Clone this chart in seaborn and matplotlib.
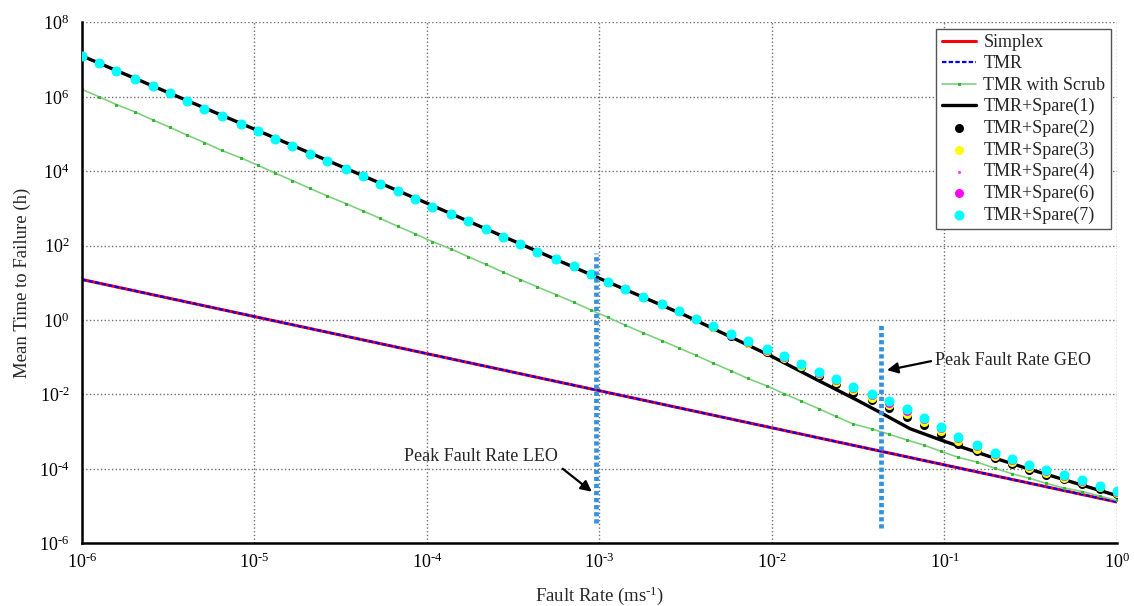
# MTTF vs fault rate for simplex / TMR / TMR+spares
import numpy as np
import matplotlib
matplotlib.use('Agg')
import matplotlib.pyplot as plt
import seaborn as sns
from matplotlib.ticker import NullLocator, NullFormatter, FuncFormatter

# all values as log10 exponents
simplex_x = [-6.0, -3.0, 0.0]
simplex_y = [1.09, -1.90, -4.89]
tmr_x = [-6.0, -3.0, 0.0]
tmr_y = [1.09, -1.90, -4.89]

# x grid of the marker series (log10 of fault rate)
rate_exp = [-6.00, -5.90, -5.80, -5.69, -5.59, -5.49, -5.39, -5.29, -5.19, -5.08,
            -4.98, -4.88, -4.78, -4.68, -4.58, -4.47, -4.37, -4.27, -4.17, -4.07,
            -3.97, -3.86, -3.76, -3.66, -3.56, -3.46, -3.36, -3.25, -3.15, -3.05,
            -2.95, -2.85, -2.75, -2.64, -2.54, -2.44, -2.34, -2.24, -2.14, -2.03,
            -1.93, -1.83, -1.73, -1.63, -1.53, -1.42, -1.32, -1.22, -1.12, -1.02,
            -0.92, -0.81, -0.71, -0.61, -0.51, -0.41, -0.31, -0.20, -0.10, 0.00]

scrub_y = [6.20, 6.00, 5.79, 5.59, 5.38, 5.18, 4.97, 4.77, 4.56, 4.36,
           4.16, 3.95, 3.75, 3.54, 3.34, 3.13, 2.93, 2.73, 2.52, 2.32,
           2.11, 1.91, 1.70, 1.50, 1.29, 1.09, 0.89, 0.68, 0.48, 0.27,
           0.07, -0.14, -0.34, -0.55, -0.75, -0.95, -1.16, -1.36, -1.57, -1.77,
           -1.98, -2.18, -2.38, -2.59, -2.79, -2.93, -3.07, -3.22, -3.36, -3.53,
           -3.69, -3.82, -3.98, -4.13, -4.25, -4.39, -4.51, -4.61, -4.73, -4.85]

spare1_x = [-6.0, -5.0, -4.0, -3.0, -2.5, -2.3, -2.0, -1.75, -1.5, -1.37, -1.2, -1.0, -0.75, -0.5, -0.25, 0.0]
spare1_y = [7.10, 5.13, 3.14, 1.12, 0.12, -0.32, -0.98, -1.58, -2.17, -2.49, -2.92, -3.26, -3.65, -4.02, -4.37, -4.72]

# the spare(2..7) markers coincide up to ~2e-3, then split
spare_head = [7.10, 6.90, 6.70, 6.49, 6.29, 6.09, 5.89, 5.68, 5.48, 5.28,
              5.08, 4.87, 4.67, 4.47, 4.27, 4.06, 3.86, 3.66, 3.46, 3.25,
              3.05, 2.85, 2.65, 2.44, 2.24, 2.04, 1.84, 1.64, 1.44, 1.23,
              1.03, 0.83, 0.63, 0.43, 0.23, 0.02]
spare2_tail = [-0.19, -0.42, -0.63, -0.86, -1.06, -1.27, -1.51, -1.73, -1.95, -2.16, -2.37, -2.60,
               -2.83, -3.06, -3.32, -3.53, -3.72, -3.88, -4.02, -4.16, -4.28, -4.40, -4.54, -4.68]
spare3_tail = [-0.18, -0.40, -0.61, -0.83, -1.02, -1.23, -1.46, -1.67, -1.89, -2.09, -2.29, -2.52,
               -2.75, -2.98, -3.25, -3.46, -3.66, -3.82, -3.97, -4.11, -4.24, -4.36, -4.50, -4.64]
spare4_tail = [-0.18, -0.39, -0.59, -0.80, -1.00, -1.20, -1.43, -1.63, -1.85, -2.04, -2.24, -2.46,
               -2.68, -2.93, -3.19, -3.41, -3.61, -3.78, -3.93, -4.08, -4.20, -4.33, -4.48, -4.62]
spare6_tail = [-0.17, -0.39, -0.58, -0.80, -0.99, -1.19, -1.41, -1.62, -1.83, -2.02, -2.22, -2.44,
               -2.66, -2.91, -3.18, -3.39, -3.59, -3.77, -3.92, -4.06, -4.19, -4.32, -4.47, -4.61]
spare7_tail = [-0.17, -0.38, -0.57, -0.78, -0.97, -1.17, -1.39, -1.59, -1.80, -1.99, -2.18, -2.40,
               -2.62, -2.87, -3.14, -3.36, -3.56, -3.74, -3.89, -4.04, -4.17, -4.30, -4.45, -4.59]

# peak fault rate markers (LEO, GEO)
peak_rate = [9.6e-4, 4.27e-2]
peak_low = [3.5e-6, 2.5e-6]
peak_high = [65.0, 0.78]

y_tick_exp = [-6, -4, -2, 0, 2, 4, 6, 8]


def pw(e):
    return 10.0 ** np.asarray(e, dtype=float)


def pow_label(v, pos):
    # short hyphen in the exponent, like the original figure
    e = int(round(np.log10(v)))
    return '$10^{%s}$' % str(e).replace('-', '\u2010')


sns.set_style('white')
plt.rcParams['font.family'] = ['Liberation Serif', 'DejaVu Serif']
plt.rcParams['mathtext.fontset'] = 'custom'
plt.rcParams['mathtext.rm'] = 'Liberation Serif'
plt.rcParams['mathtext.it'] = 'Liberation Serif:italic'
plt.rcParams['axes.unicode_minus'] = False

fig, ax = plt.subplots(figsize=(11.34, 6.06), dpi=100)
fig.subplots_adjust(left=0.0723, right=0.985, top=0.963, bottom=0.1035)
ax.set_xscale('log')
ax.set_yscale('log')

rate = pw(rate_exp)

sns.lineplot(x=pw(simplex_x), y=pw(simplex_y), ax=ax, color='red', linewidth=2.2,
             label='Simplex', errorbar=None)
sns.lineplot(x=pw(tmr_x), y=pw(tmr_y), ax=ax, color='blue', linewidth=1.6,
             linestyle=(0, (2, 1)), label='TMR', errorbar=None)
sns.lineplot(x=rate, y=pw(scrub_y), ax=ax, color='#80d080', linewidth=1.2, marker='s',
             markersize=1.8, markerfacecolor='#30b830', markeredgecolor='#30b830',
             label='TMR with Scrub', errorbar=None)
sns.lineplot(x=pw(spare1_x), y=pw(spare1_y), ax=ax, color='black', linewidth=2.4,
             label='TMR+Spare(1)', errorbar=None)
sns.scatterplot(x=rate, y=pw(spare_head + spare2_tail), ax=ax, color='black', s=42,
                linewidth=0, label='TMR+Spare(2)', zorder=3)
sns.scatterplot(x=rate, y=pw(spare_head + spare3_tail), ax=ax, color='yellow', s=42,
                linewidth=0, label='TMR+Spare(3)', zorder=3)
sns.scatterplot(x=rate, y=pw(spare_head + spare4_tail), ax=ax, color='#ff40ff', s=5,
                linewidth=0, label='TMR+Spare(4)', zorder=3)
sns.scatterplot(x=rate, y=pw(spare_head + spare6_tail), ax=ax, color='magenta', s=42,
                linewidth=0, label='TMR+Spare(6)', zorder=3)
sns.scatterplot(x=rate, y=pw(spare_head + spare7_tail), ax=ax, color='cyan', s=52,
                linewidth=0, label='TMR+Spare(7)', zorder=3)

ax.vlines(peak_rate, peak_low, peak_high, colors='#3592da', linewidth=3.4,
          linestyles=[(0, (0.9, 0.6))], zorder=4)

ax.text(pw(-3.69), pw(-3.66), 'Peak Fault Rate LEO', ha='center', va='center', fontsize=13)
ax.annotate('', xy=(pw(-3.032), pw(-4.66)), xytext=(pw(-3.226), pw(-3.95)),
            arrowprops=dict(arrowstyle='-|>', color='black', lw=1.6, mutation_scale=16))
ax.text(pw(-0.60), pw(-1.075), 'Peak Fault Rate GEO', ha='center', va='center', fontsize=13)
ax.annotate('', xy=(pw(-1.349), pw(-1.363)), xytext=(pw(-1.062), pw(-1.09)),
            arrowprops=dict(arrowstyle='-|>', color='black', lw=1.6, mutation_scale=16))

ax.set_xlim(1e-6, 1)
ax.set_ylim(1e-6, 1e8)
ax.set_yticks(pw(y_tick_exp))
ax.yaxis.set_minor_locator(NullLocator())
ax.xaxis.set_major_formatter(FuncFormatter(pow_label))
ax.yaxis.set_major_formatter(FuncFormatter(pow_label))
ax.xaxis.set_minor_formatter(NullFormatter())

ax.grid(True, which='major', linestyle=':', color='#707070', linewidth=1.0)
for side in ['top', 'right']:
    ax.spines[side].set_visible(False)
for side in ['left', 'bottom']:
    ax.spines[side].set_linewidth(1.8)
    ax.spines[side].set_color('black')

ax.tick_params(which='both', direction='in', top=False, right=False, colors='black')
ax.tick_params(which='major', length=7, width=1.3, labelsize=13)
ax.tick_params(which='minor', length=3.5, width=1.1)
ax.tick_params(axis='y', pad=9)
ax.tick_params(axis='x', pad=7)

ax.set_xlabel('Fault Rate (ms$^{\u20101}$)', fontsize=13.5, labelpad=9)
ax.set_ylabel('Mean Time to Failure (h)', fontsize=13.5, labelpad=6)

leg = ax.legend(loc='upper right', fontsize=13, frameon=True, fancybox=False,
                edgecolor='#555555', framealpha=1, labelspacing=0.24, handlelength=1.9,
                handletextpad=0.4, borderaxespad=0.35, borderpad=0.3)
leg.get_frame().set_linewidth(1.0)

plt.savefig('out.png', dpi=100)
